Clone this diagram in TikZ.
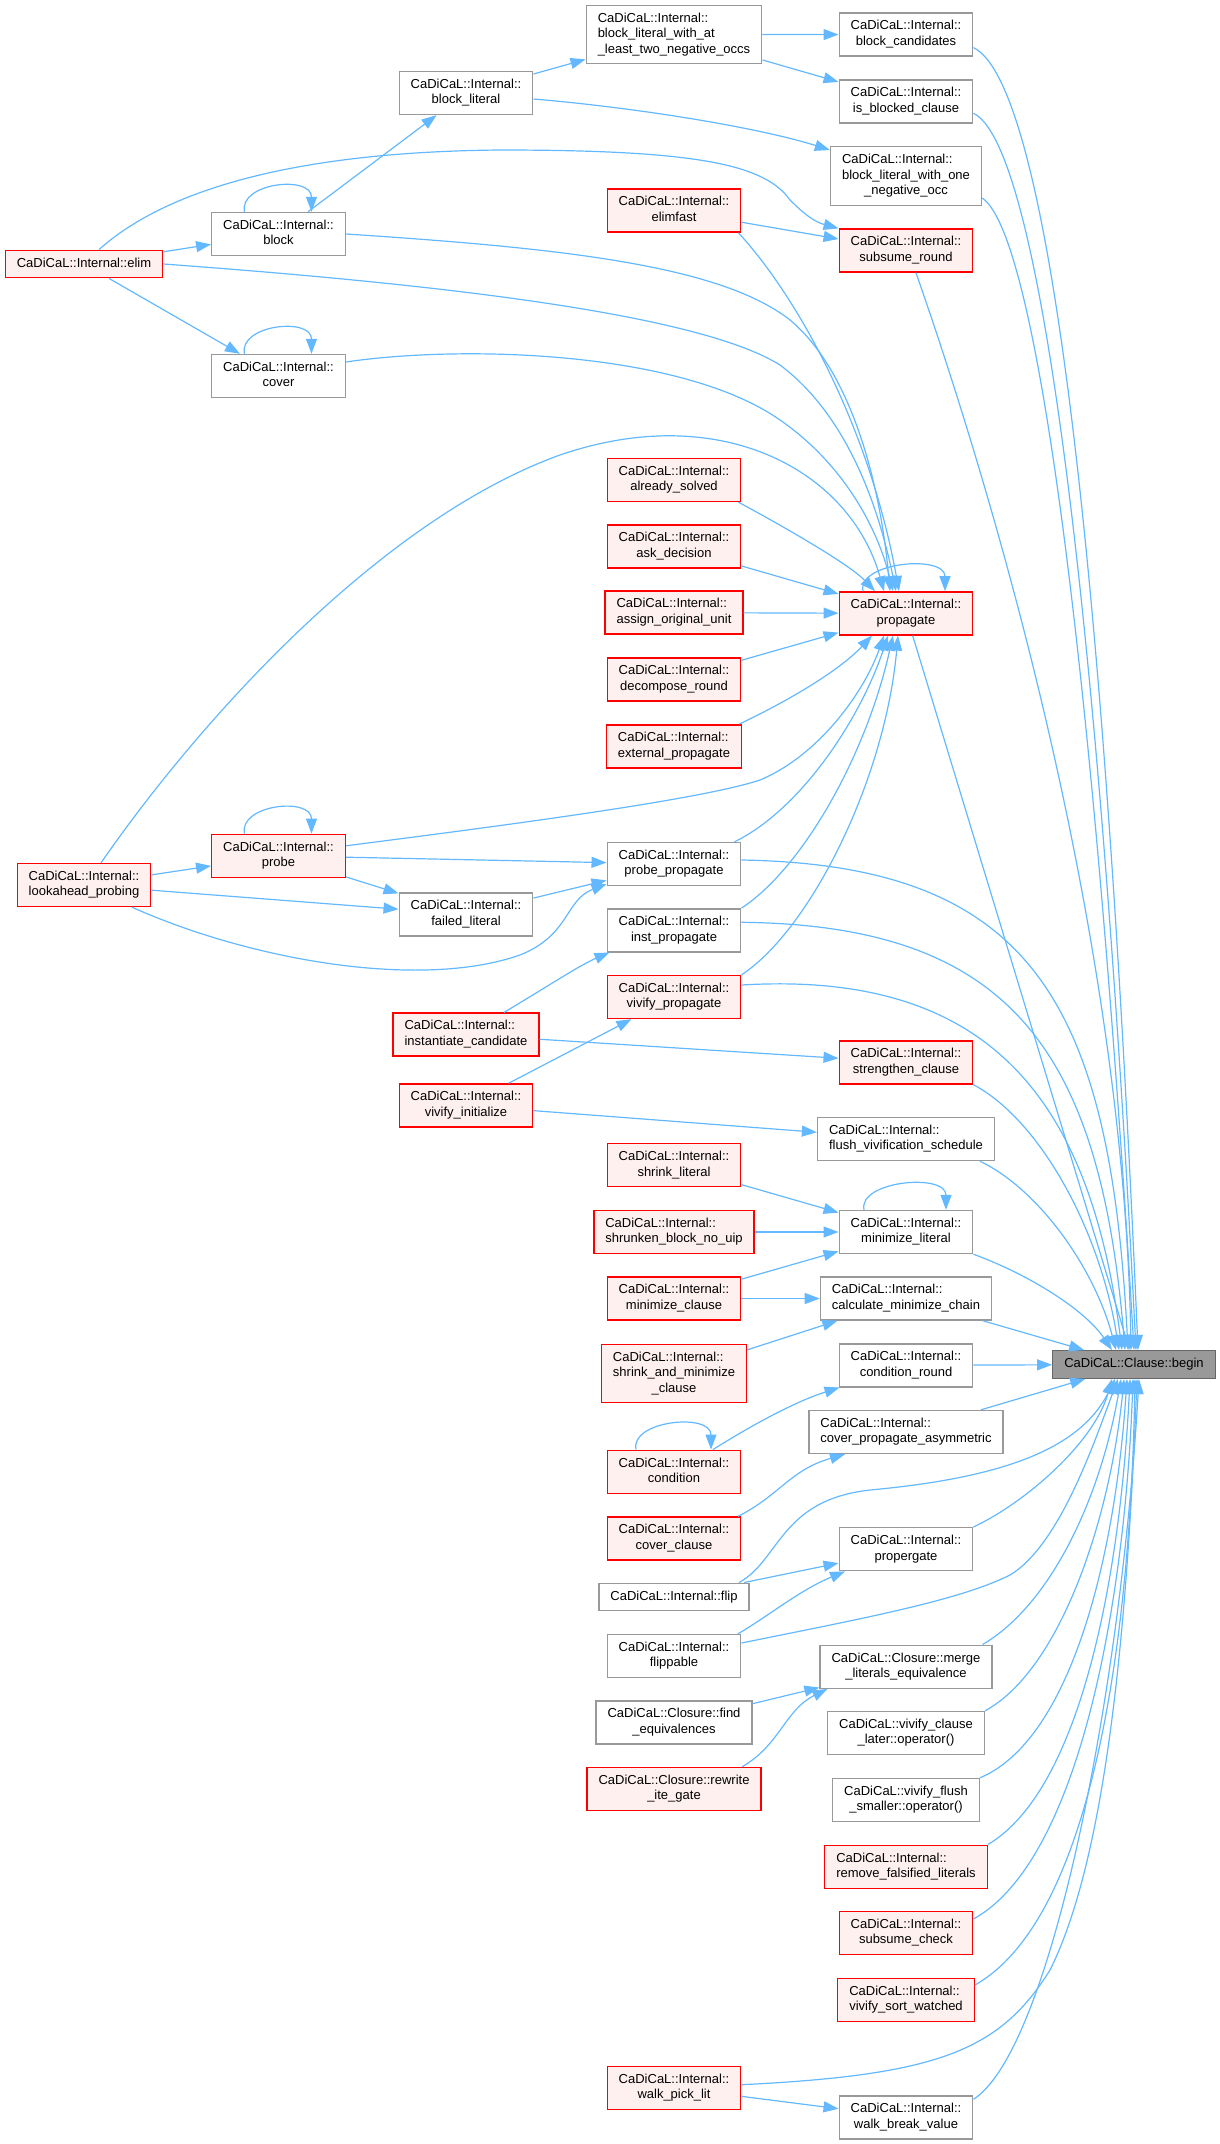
\documentclass[tikz,border=0pt]{standalone}
\usepackage{fontspec}
\setmainfont{Liberation Sans}
\usetikzlibrary{arrows.meta}
\definecolor{edgeblue}{HTML}{63B8FF}
\definecolor{boxgray}{HTML}{999999}
\definecolor{boxred}{HTML}{FF0000}
\definecolor{fillred}{HTML}{FFF0F0}
\definecolor{rootfill}{HTML}{999999}
\definecolor{rootline}{HTML}{666666}
% labels: every line but the last is left-justified, the last one centred
\newcommand\cdi{CaDiCaL::Internal::}
\newcommand\fnone[1]{\begin{tabular}{@{}c@{}}#1\end{tabular}}
\newcommand\fntwo[2]{\begin{tabular}{@{}l@{}}#1\\\multicolumn{1}{@{}c@{}}{#2}\end{tabular}}
\newcommand\fnthree[3]{\begin{tabular}{@{}l@{}}#1\\#2\\\multicolumn{1}{@{}c@{}}{#3}\end{tabular}}
\tikzset{
  fn/.style={draw=boxgray,fill=white,line width=1.4pt,inner xsep=11.5pt,inner ysep=6pt},
  fnred/.style={fn,draw=boxred,fill=fillred},
  fnroot/.style={fn,draw=rootline,fill=rootfill},
  call/.style={draw=edgeblue,line width=1.2pt,-{Triangle[length=15pt,width=11pt]}}
}
\begin{document}
\begin{tikzpicture}[x=1pt,y=-1pt,font=\fontsize{13}{15.5}\selectfont]
\useasboundingbox (0,0) rectangle (1219,2144);
% functions, placed at pixel centres (y grows downwards)
\node[fn] (bltn) at (674,34.5) {\fnthree{\cdi}{block\_literal\_with\_at}{\_least\_two\_negative\_occs}};
\node[fn] (bcand) at (906,34.6) {\fntwo{\cdi}{block\_candidates}};
\node[fn] (blit) at (466,93) {\fntwo{\cdi}{block\_literal}};
\node[fn] (isbc) at (906,101.3) {\fntwo{\cdi}{is\_blocked\_clause}};
\node[fn] (blon) at (906,176) {\fnthree{\cdi}{block\_literal\_with\_one}{\_negative\_occ}};
\node[fnred] (elimfast) at (674,210.6) {\fntwo{\cdi}{elimfast}};
\node[fn] (block) at (278.5,234) {\fntwo{\cdi}{block}};
\node[fnred] (subround) at (906,250.6) {\fntwo{\cdi}{subsume\_round}};
\node[fnred] (elim) at (84,264) {\fnone{CaDiCaL::Internal::elim}};
\node[fn] (cover) at (278.5,376) {\fntwo{\cdi}{cover}};
\node[fnred] (solved) at (674,480) {\fntwo{\cdi}{already\_solved}};
\node[fnred] (askdec) at (674,546.5) {\fntwo{\cdi}{ask\_decision}};
\node[fnred] (assignu) at (674,612.6) {\fntwo{\cdi}{assign\_original\_unit}};
\node[fnred] (prop) at (906,613.4) {\fntwo{\cdi}{propagate}};
\node[fnred] (decomp) at (674,679.5) {\fntwo{\cdi}{decompose\_round}};
\node[fnred] (extprop) at (674,746.3) {\fntwo{\cdi}{external\_propagate}};
\node[fnred] (probe) at (278.5,855.8) {\fntwo{\cdi}{probe}};
\node[fn] (probeprop) at (674,864) {\fntwo{\cdi}{probe\_propagate}};
\node[fnred] (lookahead) at (84,885) {\fntwo{\cdi}{lookahead\_probing}};
\node[fn] (failed) at (466,914.4) {\fntwo{\cdi}{failed\_literal}};
\node[fn] (instprop) at (674,930.3) {\fntwo{\cdi}{inst\_propagate}};
\node[fnred] (vivprop) at (674,997) {\fntwo{\cdi}{vivify\_propagate}};
\node[fnred] (instcand) at (466,1034.6) {\fntwo{\cdi}{instantiate\_candidate}};
\node[fnred] (strengthen) at (906,1062.5) {\fntwo{\cdi}{strengthen\_clause}};
\node[fnred] (vivinit) at (466,1105.5) {\fntwo{\cdi}{vivify\_initialize}};
\node[fn] (flushviv) at (906,1139) {\fntwo{\cdi}{flush\_vivification\_schedule}};
\node[fnred] (shrinklit) at (674,1165.2) {\fntwo{\cdi}{shrink\_literal}};
\node[fn] (minlit) at (906,1232) {\fntwo{\cdi}{minimize\_literal}};
\node[fnred] (shrunken) at (674,1232) {\fntwo{\cdi}{shrunken\_block\_no\_uip}};
\node[fnred] (minclause) at (674,1298.5) {\fntwo{\cdi}{minimize\_clause}};
\node[fn] (calcmin) at (906,1298.5) {\fntwo{\cdi}{calculate\_minimize\_chain}};
\node[fnred] (shrinkmin) at (674,1373.5) {\fnthree{\cdi}{shrink\_and\_minimize}{\_clause}};
\node[fn] (condround) at (906,1365.3) {\fntwo{\cdi}{condition\_round}};
\node[fnroot] (clbegin) at (1134,1364.5) {\fnone{CaDiCaL::Clause::begin}};
\node[fn] (coverasym) at (906,1432) {\fntwo{\cdi}{cover\_propagate\_asymmetric}};
\node[fnred] (condition) at (674,1471.7) {\fntwo{\cdi}{condition}};
\node[fnred] (coverclause) at (674,1538.6) {\fntwo{\cdi}{cover\_clause}};
\node[fn] (propergate) at (906,1549.2) {\fntwo{\cdi}{propergate}};
\node[fn] (flip) at (674,1597) {\fnone{CaDiCaL::Internal::flip}};
\node[fn] (flippable) at (674,1656) {\fntwo{\cdi}{flippable}};
\node[fn] (merge) at (906,1666.7) {\fntwo{CaDiCaL::Closure::merge}{\_literals\_equivalence}};
\node[fn] (findeq) at (674,1722.6) {\fntwo{CaDiCaL::Closure::find}{\_equivalences}};
\node[fn] (vclater) at (906,1733) {\fntwo{CaDiCaL::vivify\_clause}{\_later::operator()}};
\node[fnred] (rewrite) at (674,1789) {\fntwo{CaDiCaL::Closure::rewrite}{\_ite\_gate}};
\node[fn] (vfsmaller) at (906,1800) {\fntwo{CaDiCaL::vivify\_flush}{\_smaller::operator()}};
\node[fnred] (removef) at (906,1866.7) {\fntwo{\cdi}{remove\_falsified\_literals}};
\node[fnred] (subcheck) at (906,1933) {\fntwo{\cdi}{subsume\_check}};
\node[fnred] (vsort) at (906,2000) {\fntwo{\cdi}{vivify\_sort\_watched}};
\node[fnred] (walkpick) at (674,2087.7) {\fntwo{\cdi}{walk\_pick\_lit}};
\node[fn] (walkbreak) at (906,2117.3) {\fntwo{\cdi}{walk\_break\_value}};
% straight calls, centre to centre
\foreach \a/\b in {block/blit, blit/bltn, bltn/bcand, bltn/isbc, elim/block, elim/cover,
  elimfast/subround, askdec/prop, assignu/prop, decomp/prop, prop/clbegin,
  lookahead/probe, lookahead/failed, probe/probeprop, probe/failed, failed/probeprop,
  instcand/strengthen, vivinit/vivprop, vivinit/flushviv, shrinklit/minlit, shrunken/minlit,
  minclause/minlit, minclause/calcmin, shrinkmin/calcmin, calcmin/clbegin, condround/clbegin,
  coverasym/clbegin, flip/propergate, findeq/merge, walkpick/walkbreak}
  \draw[call] (\a) -- (\b);
% recursive calls
\foreach \nd/\lx/\rx in {block/-34pt/33pt, cover/-34pt/33pt, probe/-34pt/33pt,
  prop/-43pt/39pt, minlit/-42pt/40pt, condition/-38pt/37pt}
  \draw[call] ([xshift=\lx]\nd.north) .. controls +(-6,-29) and +(0,-37) .. ([xshift=\rx]\nd.north);
% into propagate, from above and from below
\draw[call] ([xshift=17pt]lookahead.north) .. controls (200,720) and (380,520) .. (560,455)
  .. controls (720,400) and (850,470) .. ([xshift=-22pt]prop.north);
\draw[call] (block.east) .. controls (560,248) and (720,265) .. (790,320)
  .. controls (850,370) and (880,480) .. ([xshift=-16pt]prop.north);
\draw[call] (elim.east) .. controls (450,285) and (700,315) .. (780,365)
  .. controls (840,410) and (875,490) .. ([xshift=-10pt]prop.north);
\draw[call] ([yshift=14pt]cover.east) .. controls (460,345) and (680,350) .. (780,420)
  .. controls (845,465) and (878,530) .. ([xshift=-13pt]prop.north);
\draw[call] ([xshift=-3pt]elimfast.south east) .. controls (800,300) and (870,430) .. ([xshift=-7pt]prop.north);
\draw[call] ([xshift=-3pt]solved.south east) .. controls (790,530) and (850,565) .. ([xshift=-31pt]prop.north);
\draw[call] ([xshift=-3pt]extprop.north east) .. controls (790,700) and (840,670) .. ([xshift=-34pt]prop.south);
\draw[call] ([yshift=10pt]probe.east) .. controls (500,826) and (700,800) .. (760,780)
  .. controls (820,755) and (865,690) .. ([xshift=-22pt]prop.south);
\draw[call] ([xshift=-7pt]probeprop.north east) .. controls (800,810) and (860,720) .. ([xshift=-18pt]prop.south);
\draw[call] (instprop.north east) .. controls (800,870) and (865,760) .. ([xshift=-13pt]prop.south);
\draw[call] (vivprop.north east) .. controls (810,930) and (885,780) .. ([xshift=-8pt]prop.south);
% other bent calls
\draw[call] ([xshift=15pt]elim.north) .. controls (160,195) and (280,152) .. (500,150)
  .. controls (700,150) and (765,165) .. (790,200) .. controls (805,215) and (815,222) .. (subround.north west);
\draw[call] ([yshift=-6pt]blit.east) .. controls (640,108) and (760,128) .. ([yshift=26pt]blon.west);
\draw[call] ([xshift=48pt]lookahead.south) .. controls (250,960) and (420,990) .. (520,955)
  .. controls (570,935) and (565,900) .. ([yshift=-20pt]probeprop.west);
\draw[call] ([xshift=38pt]instcand.north) .. controls (545,988) and (580,965) .. ([xshift=3pt]instprop.south west);
\draw[call] ([xshift=39pt]condition.north) .. controls (760,1420) and (800,1400) .. ([xshift=1pt]condround.south west);
\draw[call] ([xshift=64pt]coverclause.north) .. controls (780,1495) and (790,1470) .. ([xshift=-61pt]coverasym.south);
\draw[call] ([xshift=64pt]flippable.north) .. controls (770,1615) and (800,1590) .. ([xshift=-61pt]propergate.south);
\draw[call] ([xshift=68pt]rewrite.north) .. controls (780,1745) and (785,1710) .. ([xshift=8pt]merge.south west);
% into Clause::begin from above
\draw[call] ([yshift=-13pt]bcand.east) .. controls (1060,90) and (1110,700) .. ([xshift=4pt]clbegin.north);
\draw[call] ([yshift=-12pt]isbc.east) .. controls (1050,150) and (1105,740) .. ([xshift=2pt]clbegin.north);
\draw[call] ([yshift=-22pt]blon.east) .. controls (1045,240) and (1100,780) .. (clbegin.north);
\draw[call] ([xshift=10pt]subround.south) .. controls (1030,600) and (1125,1000) .. ([xshift=-3pt]clbegin.north);
\draw[call] ([yshift=4pt]probeprop.east) .. controls (1030,865) and (1110,1000) .. ([xshift=-6pt]clbegin.north);
\draw[call] ([yshift=8pt]instprop.east) .. controls (1010,925) and (1100,1050) .. ([xshift=-9pt]clbegin.north);
\draw[call] ([yshift=12pt]vivprop.east) .. controls (990,970) and (1090,1100) .. ([xshift=-12pt]clbegin.north);
\draw[call] (strengthen.south east) .. controls (1040,1120) and (1100,1230) .. ([xshift=-15pt]clbegin.north);
\draw[call] ([xshift=74pt]flushviv.south) .. controls (1040,1190) and (1095,1270) .. ([xshift=-18pt]clbegin.north);
\draw[call] (minlit.south east) .. controls (1030,1275) and (1085,1310) .. ([xshift=-22pt]clbegin.north);
% into Clause::begin from below
\draw[call] (propergate.north east) .. controls (1030,1500) and (1095,1440) .. ([xshift=-22pt]clbegin.south);
\draw[call] ([xshift=65pt]flip.north) .. controls (780,1560) and (780,1500) .. (870,1490)
  .. controls (1000,1478) and (1080,1450) .. ([xshift=-19pt]clbegin.south);
\draw[call] ([yshift=13pt]flippable.east) .. controls (870,1617) and (960,1600) .. (1010,1575)
  .. controls (1060,1545) and (1095,1440) .. ([xshift=-16pt]clbegin.south);
\draw[call] ([xshift=-10pt]merge.north east) .. controls (1050,1605) and (1100,1500) .. ([xshift=-13pt]clbegin.south);
\draw[call] (vclater.north east) .. controls (1060,1670) and (1110,1520) .. ([xshift=-10pt]clbegin.south);
\draw[call] (vfsmaller.north east) .. controls (1070,1740) and (1115,1560) .. ([xshift=-7pt]clbegin.south);
\draw[call] (removef.north east) .. controls (1080,1790) and (1120,1580) .. ([xshift=-4pt]clbegin.south);
\draw[call] ([yshift=14pt]subcheck.east) .. controls (1080,1860) and (1125,1600) .. ([xshift=-1pt]clbegin.south);
\draw[call] ([yshift=15pt]vsort.east) .. controls (1090,1920) and (1130,1650) .. ([xshift=1pt]clbegin.south);
\draw[call] ([yshift=3pt]walkpick.east) .. controls (940,2075) and (1000,2050) .. (1050,1970)
  .. controls (1110,1850) and (1128,1600) .. ([xshift=3pt]clbegin.south);
\draw[call] ([yshift=18pt]walkbreak.east) .. controls (1050,2050) and (1120,1700) .. ([xshift=5pt]clbegin.south);
\end{tikzpicture}
\end{document}
